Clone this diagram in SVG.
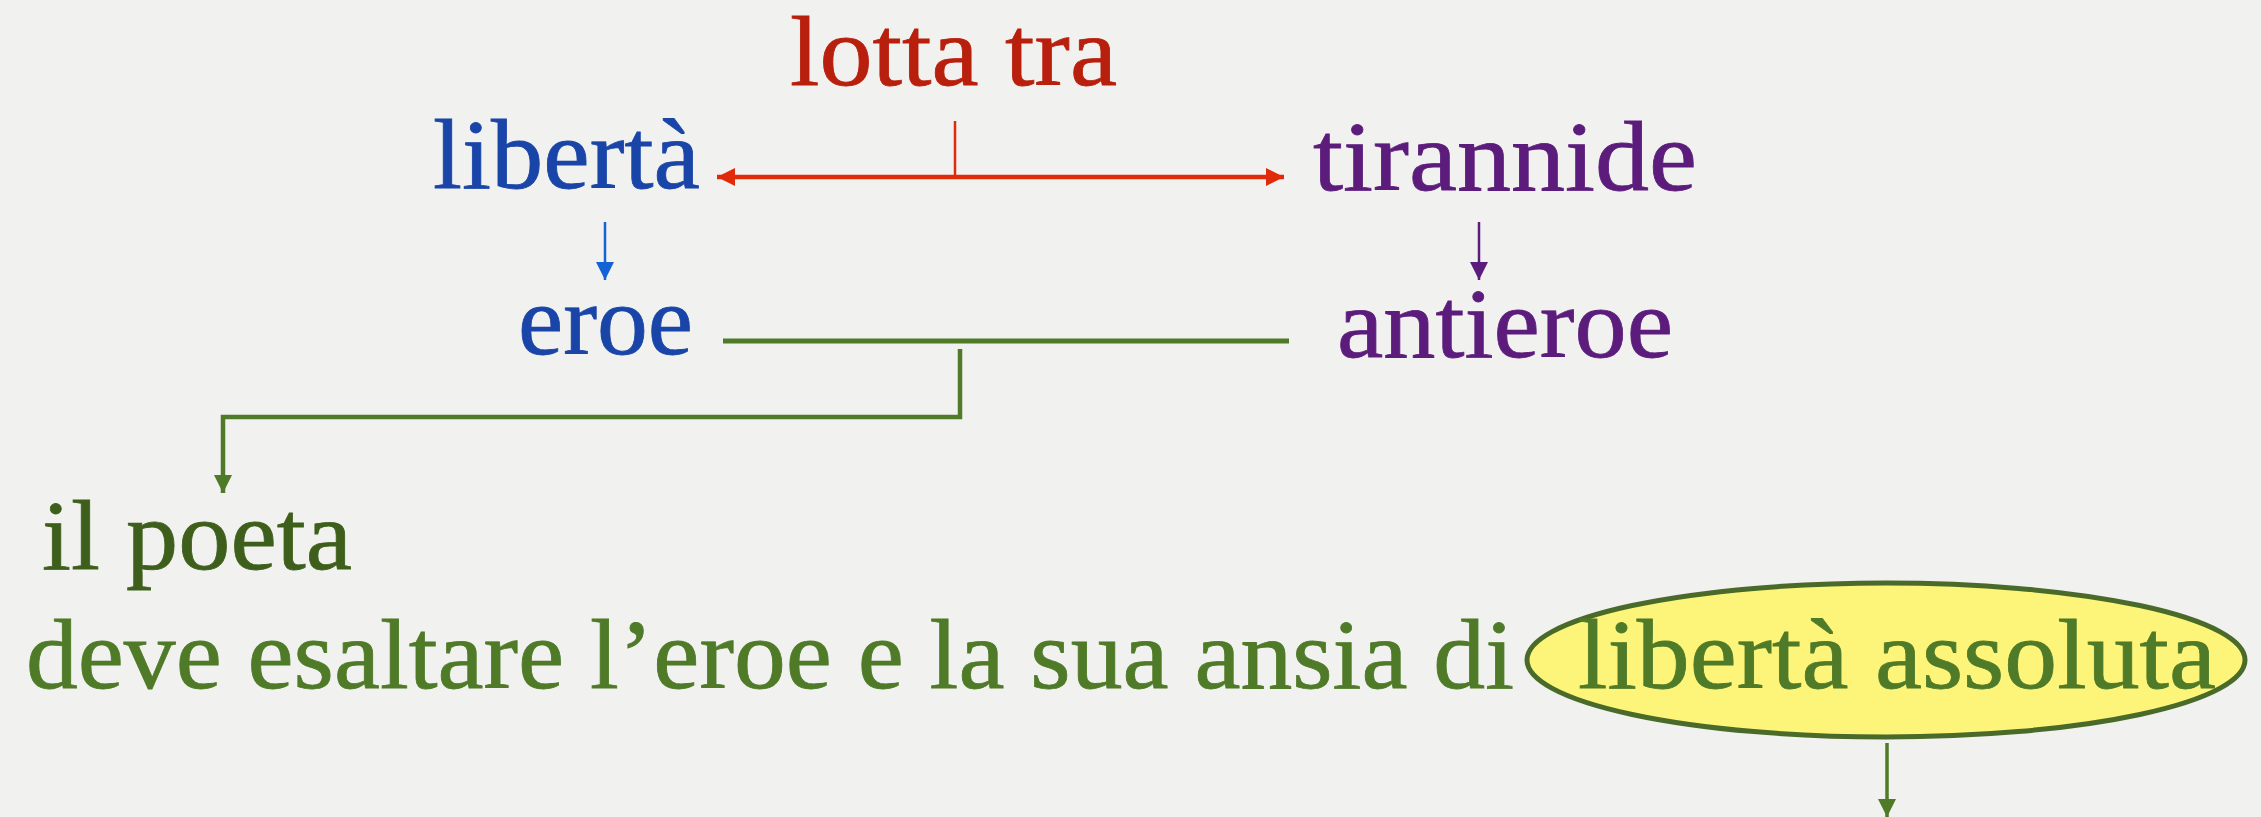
<svg xmlns="http://www.w3.org/2000/svg" width="2261" height="817" viewBox="0 0 2261 817">
<style>
.t{font-family:"Liberation Serif","DejaVu Serif",serif;font-size:100px;stroke-width:0.8px}
.red{fill:#b81f0c;stroke:#b81f0c}.blue{fill:#1a45a8;stroke:#1a45a8}.purp{fill:#5c1c7c;stroke:#5c1c7c}.dg{fill:#3e5f1c;stroke:#3e5f1c}.g{fill:#4f7a28;stroke:#4f7a28}
.c{fill:none}
</style>
<defs>
<marker id="ar" markerUnits="userSpaceOnUse" markerWidth="20" markerHeight="18" refX="18" refY="9" orient="auto-start-reverse"><path d="M0,0 L18,9 L0,18 Z" fill="#e02a0a"/></marker>
<marker id="ab" markerUnits="userSpaceOnUse" markerWidth="18" markerHeight="18" refX="18" refY="9" orient="auto"><path d="M0,0 L18,9 L0,18 Z" fill="#1463d6"/></marker>
<marker id="ap" markerUnits="userSpaceOnUse" markerWidth="18" markerHeight="18" refX="18" refY="9" orient="auto"><path d="M0,0 L18,9 L0,18 Z" fill="#5c1c7c"/></marker>
<marker id="ag" markerUnits="userSpaceOnUse" markerWidth="18" markerHeight="18" refX="18" refY="9" orient="auto"><path d="M0,0 L18,9 L0,18 Z" fill="#4f7a28"/></marker>
</defs>
<rect width="2261" height="817" fill="#f1f1ef"/>
<g id="connectors">
<path class="c" d="M717,177 H1284" stroke="#e02a0a" stroke-width="4.5" marker-start="url(#ar)" marker-end="url(#ar)"/>
<path class="c" d="M955,121 V177" stroke="#e02a0a" stroke-width="2.5"/>
<path class="c" d="M605,222 V280" stroke="#1463d6" stroke-width="2.5" marker-end="url(#ab)"/>
<path class="c" d="M1479,222 V280" stroke="#5c1c7c" stroke-width="2.5" marker-end="url(#ap)"/>
<path class="c" d="M723,341 H1289" stroke="#4f7a28" stroke-width="5"/>
<path class="c" d="M960,349 V417 H223 V493" stroke="#4f7a28" stroke-width="4.5" marker-end="url(#ag)"/>
<path class="c" d="M1887,743 V817" stroke="#4f7a28" stroke-width="3.5" marker-end="url(#ag)"/>
</g>
<g id="lotta"><text class="t red" x="790" y="85" textLength="327" lengthAdjust="spacingAndGlyphs">lotta tra</text></g>
<g id="liberta"><text class="t blue" x="433" y="188" textLength="267" lengthAdjust="spacingAndGlyphs">libertà</text></g>
<g id="tirannide"><text class="t purp" x="1313" y="190" textLength="384" lengthAdjust="spacingAndGlyphs">tirannide</text></g>
<g id="eroe"><text class="t blue" x="518" y="354" textLength="175" lengthAdjust="spacingAndGlyphs">eroe</text></g>
<g id="antieroe"><text class="t purp" x="1337" y="357" textLength="336" lengthAdjust="spacingAndGlyphs">antieroe</text></g>
<g id="poeta"><text class="t dg" x="42" y="569" textLength="310" lengthAdjust="spacingAndGlyphs">il poeta</text></g>
<g id="deve"><text class="t g" x="26" y="688" textLength="1488" lengthAdjust="spacingAndGlyphs">deve esaltare l’eroe e la sua ansia di</text></g>
<g id="assoluta">
<ellipse cx="1886" cy="660" rx="359" ry="77" fill="#fdf57a" stroke="#4a6a2a" stroke-width="5"/>
<text class="t g" x="1578" y="688" textLength="638" lengthAdjust="spacingAndGlyphs">libertà assoluta</text>
</g>
</svg>
